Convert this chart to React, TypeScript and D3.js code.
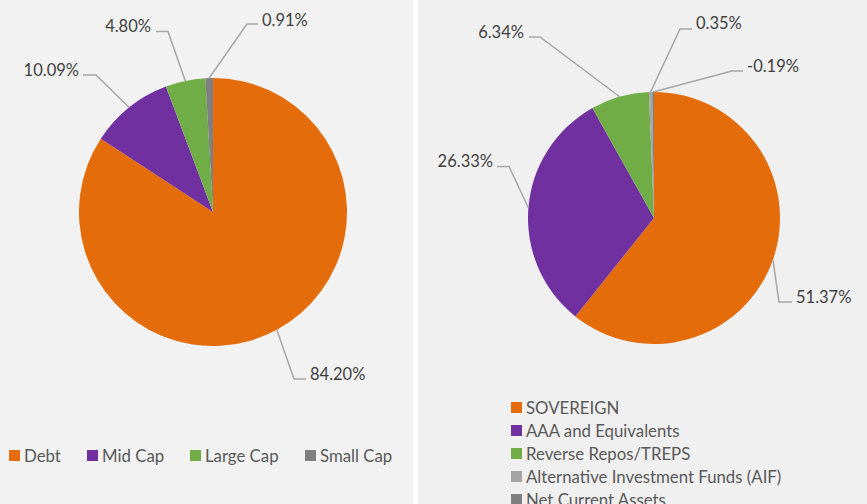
import React from "react";
import * as d3 from "d3";

// ---- Data ----
const leftCategories = ["Debt", "Mid Cap", "Large Cap", "Small Cap"];
const leftValues = [84.2, 10.09, 4.8, 0.91];
const leftLabels = ["84.20%", "10.09%", "4.80%", "0.91%"];

const rightCategories = [
  "SOVEREIGN",
  "AAA and Equivalents",
  "Reverse Repos/TREPS",
  "Alternative Investment Funds (AIF)",
  "Net Current Assets",
];
const rightValues = [51.37, 26.33, 6.34, 0.35, -0.19];
const rightLabels = ["51.37%", "26.33%", "6.34%", "0.35%", "-0.19%"];

const leftColors = ["#E46C0A", "#7030A0", "#70AD47", "#7F7F7F"];
const rightColors = ["#E46C0A", "#7030A0", "#70AD47", "#A5A5A5", "#7F7F7F"];

// ---- Layout (label placement: elbow, line end, text start & side) ----
type LP = { ex: number; ey: number; lx: number; tx: number; ty: number; anchor: "start" | "end" };
const leftLayout: LP[] = [
  { ex: 294, ey: 379, lx: 306, tx: 310, ty: 380, anchor: "start" },
  { ex: 96, ey: 75, lx: 83, tx: 79, ty: 76, anchor: "end" },
  { ex: 168, ey: 31.5, lx: 156, tx: 151, ty: 32, anchor: "end" },
  { ex: 247, ey: 24, lx: 258, tx: 262, ty: 26, anchor: "start" },
];
const rightLayout: LP[] = [
  { ex: 779, ey: 302, lx: 792, tx: 796, ty: 303, anchor: "start" },
  { ex: 509, ey: 166.5, lx: 497, tx: 493, ty: 167, anchor: "end" },
  { ex: 540, ey: 37, lx: 529, tx: 524, ty: 38, anchor: "end" },
  { ex: 680, ey: 29, lx: 692, tx: 696, ty: 29, anchor: "start" },
  { ex: 732, ey: 71, lx: 743, tx: 747, ty: 72, anchor: "start" },
];

const FONT = "Lato, 'Open Sans', sans-serif";

function Pie({ values, labels, colors, cx, cy, r, layout }: any) {
  const pie = d3.pie<number>().sort(null).value((d) => Math.abs(d));
  const arcs = pie(values);
  const arc = d3.arc<d3.PieArcDatum<number>>().innerRadius(0).outerRadius(r);
  return (
    <g>
      <g transform={`translate(${cx},${cy})`}>
        {arcs.map((a, i) => (
          <path key={i} d={arc(a) || ""} fill={colors[i]} />
        ))}
      </g>
      {arcs.map((a, i) => {
        const mid = (a.startAngle + a.endAngle) / 2;
        const sx = cx + r * Math.sin(mid);
        const sy = cy - r * Math.cos(mid);
        const L = layout[i];
        return (
          <g key={"l" + i}>
            <polyline
              points={`${sx},${sy} ${L.ex},${L.ey} ${L.lx},${L.ey}`}
              fill="none"
              stroke="#A6A6A6"
              strokeWidth={1.5}
            />
            <text x={L.tx} y={L.ty} textAnchor={L.anchor} fontFamily={FONT} fontSize={16.5} fill="#3F3F3F">
              {labels[i]}
            </text>
          </g>
        );
      })}
    </g>
  );
}

export default function App() {
  const leftLegendX = [9, 87, 190, 305];
  return (
    <svg
      width={867}
      height={504}
      style={{ position: "absolute", left: 0, top: 0, display: "block" }}
    >
      <rect x={0} y={0} width={867} height={504} fill="#FFFFFF" />
      <rect x={0} y={0} width={413} height={504} fill="#F2F2F2" />
      <rect x={418} y={0} width={449} height={504} fill="#F0F0F0" />
      <Pie values={leftValues} labels={leftLabels} colors={leftColors} cx={213} cy={212} r={134} layout={leftLayout} />
      <Pie values={rightValues} labels={rightLabels} colors={rightColors} cx={654} cy={218} r={126} layout={rightLayout} />
      {leftCategories.map((c, i) => (
        <g key={c}>
          <rect x={leftLegendX[i]} y={450} width={11} height={11} fill={leftColors[i]} />
          <text x={leftLegendX[i] + 15} y={461.5} fontFamily={FONT} fontSize={16.8} fill="#595959">
            {c}
          </text>
        </g>
      ))}
      {rightCategories.map((c, i) => (
        <g key={c}>
          <rect x={511} y={402 + i * 23} width={11} height={11} fill={rightColors[i]} />
          <text x={526} y={413.5 + i * 23} fontFamily={FONT} fontSize={16.8} fill="#595959">
            {c}
          </text>
        </g>
      ))}
    </svg>
  );
}
